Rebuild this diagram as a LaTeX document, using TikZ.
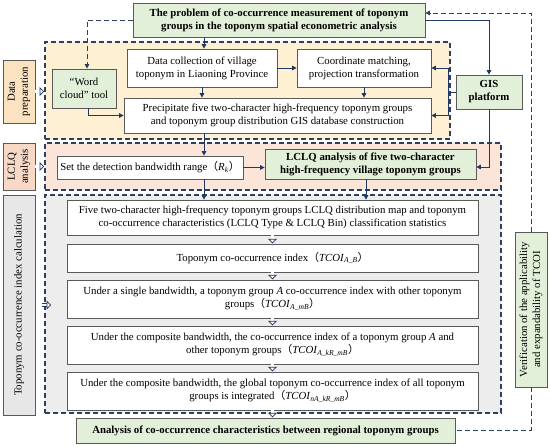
\documentclass[tikz,border=0pt]{standalone}
\usepackage{fontspec}
\setmainfont{Liberation Serif}
\newfontfamily\cjkf{Noto Sans CJK SC}
\usetikzlibrary{arrows.meta,calc}
\definecolor{navy}{HTML}{1F3864}
\definecolor{dnavy}{HTML}{2F3F5F}
\definecolor{boxgray}{HTML}{595959}
\definecolor{greenf}{HTML}{E2EFD9}
\definecolor{yellowf}{HTML}{FEF0D2}
\definecolor{pinkf}{HTML}{FBE4D8}
\definecolor{grayf}{HTML}{EDEDED}
\definecolor{preplab}{HTML}{FBE3C2}
\definecolor{lclqlab}{HTML}{F8D8C6}
\definecolor{calclab}{HTML}{E7E7E7}
\newcommand{\fs}{\fontsize{10.8}{13}\selectfont}
\newcommand{\lp}{{\cjkf （}}
\newcommand{\rp}{{\cjkf ）}}
\newcommand{\tc}[1]{\textit{TCOI}\textsubscript{\textit{#1}}}
\begin{document}
\begin{tikzpicture}[x=1pt,y=-1pt,
  box/.style={draw=boxgray, line width=0.7pt, align=center, inner sep=0pt, font=\fs},
  gbox/.style={box, fill=greenf, font=\fs\bfseries},
  wbox/.style={box, fill=white},
  region/.style={draw=dnavy, dash pattern=on 5pt off 3pt, line width=1.1pt, inner sep=0pt},
  lab/.style={box, rotate=90},
  arr/.style={draw=navy, line width=0.9pt, -{Triangle[length=4.5pt,width=4.5pt]}},
  dline/.style={draw=dnavy, line width=1pt, dash pattern=on 5pt off 3pt},
  darr/.style={dline, -{Triangle[length=4.5pt,width=4.5pt]}},
  hollow/.style={draw=navy, line width=0.7pt, double=white, double distance=2.2pt, -{Triangle[open, fill=white, length=4.5pt, width=9pt]}, shorten >=0.3pt}
]
\useasboundingbox (0,0) rectangle (550,447);
% regions
\node[region, fill=yellowf, minimum width=405pt, minimum height=97pt] (yreg) at (247.5,90.5) {};
\node[region, fill=pinkf, minimum width=456pt, minimum height=47pt] (preg) at (273,166.5) {};
\node[region, fill=grayf, minimum width=456pt, minimum height=218pt] (greg) at (273,304) {};
% side labels
\node[lab, fill=preplab, minimum width=63pt, minimum height=32pt] (prep) at (19,91.5) {Data\\preparation};
\node[lab, fill=lclqlab, minimum width=47pt, minimum height=32pt] (lclq) at (19,166.5) {LCLQ\\analysis};
\node[lab, fill=calclab, minimum width=220pt, minimum height=32pt] (calc) at (19,305) {Toponym co-occurrence index calculation};
% top
\node[gbox, minimum width=292pt, minimum height=34pt] (top) at (279,20) {The problem of co-occurrence measurement of toponym\\groups in the toponym spatial econometric analysis};
\node[gbox, font=\fs, minimum width=64pt, minimum height=39pt] (wc) at (84,88.5) {``Word\\cloud'' tool};
\node[wbox, minimum width=150pt, minimum height=38pt] (dc) at (202,68) {Data collection of village\\toponym in Liaoning Province};
\node[wbox, minimum width=134pt, minimum height=38pt] (cm) at (364,68) {Coordinate matching,\\projection transformation};
\node[wbox, minimum width=307pt, minimum height=35pt] (pp) at (277.5,115.5) {Precipitate five two-character high-frequency toponym groups\\and toponym group distribution GIS database construction};
\node[gbox, minimum width=66pt, minimum height=34pt] (gis) at (489,92) {GIS\\platform};
% LCLQ
\node[wbox, minimum width=186pt, minimum height=23pt] (sd) at (150,167.5) {Set the detection bandwidth range\lp\textit{R}\textsubscript{\textit{k}}\rp};
\node[gbox, minimum width=211pt, minimum height=30pt] (la) at (370.5,164) {LCLQ analysis of five two-character\\high-frequency village toponym groups};
% calc
\node[wbox, minimum width=411pt, minimum height=35pt] (w1) at (272.5,217.5) {Five two-character high-frequency toponym groups LCLQ distribution map and toponym\\co-occurrence characteristics (LCLQ Type \& LCLQ Bin) classification statistics};
\node[wbox, minimum width=411pt, minimum height=28pt] (w2) at (272.5,258) {Toponym co-occurrence index\lp\tc{A\_B}\rp};
\node[wbox, minimum width=411pt, minimum height=38pt] (w3) at (272.5,299) {Under a single bandwidth, a toponym group \textit{A} co-occurrence index with other toponym\\groups\lp\tc{A\_mB}\rp};
\node[wbox, minimum width=411pt, minimum height=38pt] (w4) at (272.5,345) {Under the composite bandwidth, the co-occurrence index of a toponym group \textit{A} and\\other toponym groups\lp\tc{A\_kR\_mB}\rp};
\node[wbox, minimum width=411pt, minimum height=38pt] (w5) at (272.5,391) {Under the composite bandwidth, the global toponym co-occurrence index of all toponym\\groups is integrated\lp\tc{nA\_kR\_mB}\rp};
\node[gbox, minimum width=379pt, minimum height=25pt] (fin) at (265.5,430.5) {Analysis of co-occurrence characteristics between regional toponym groups};
\node[gbox, font=\fs, rotate=90, minimum width=155pt, minimum height=32pt] (ver) at (531,309.5) {Verification of the applicability\\and expandability of TCOI};
% connectors
\draw[arr] ([xshift=2pt]top.south -| dc.north) -- ([xshift=2pt]dc.north);
\draw[arr] (dc.east) -- (cm.west);
\draw[arr] (dc.south) -- (dc.south |- pp.north);
\draw[arr] (cm.south) -- (cm.south |- pp.north);
\draw[arr] (top.east) -| (gis.north);
\coordinate (gj) at (gis.west -| 448,0);
\draw[navy, line width=0.9pt] (gis.west) -- (gj);
\draw[arr] (gj) |- (cm.east);
\draw[arr] (gj) |- (pp.east);
\draw[arr] (gis.south) |- ([yshift=-3pt]la.east);
\draw[darr] (top.west) -| ([xshift=3pt]wc.north);
\draw[arr] ([xshift=4pt]wc.south) |- (pp.west);
\draw[arr] ([xshift=2pt]pp.south -| dc.south) -- ([xshift=2pt]dc.south |- sd.north);
\draw[arr] ([xshift=2pt]sd.south -| dc.south) -- ([xshift=2pt]dc.south |- w1.north);
\draw[arr] (sd.east) -- (sd.east -| la.west);
\draw[arr] ([xshift=2pt]la.south -| cm.south) -- ([xshift=2pt]cm.south |- w1.north);
\draw[hollow] (w1.south) -- (w2.north);
\draw[hollow] (w2.south) -- (w3.north);
\draw[hollow] (w3.south) -- (w4.north);
\draw[hollow] (w4.south) -- (w5.north);
\draw[hollow] (w5.south) -- (w5.south |- fin.north);
\draw[hollow] (prep.south) -- (prep.south -| yreg.west);
\draw[hollow] (lclq.south) -- (lclq.south -| preg.west);
\draw[hollow] ([xshift=7pt]calc.south) -- ([xshift=7pt]calc.south -| greg.west);
\draw[darr] (ver.east) |- ([yshift=7pt]top.east);
\draw[dline] (ver.west) |- (fin.east);
\end{tikzpicture}
\end{document}
